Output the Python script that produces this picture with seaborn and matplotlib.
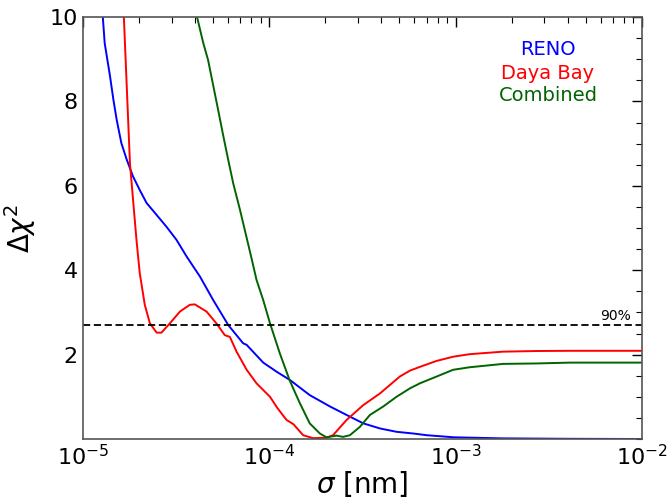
import numpy as np
import pandas as pd
import matplotlib
matplotlib.use("Agg")
import matplotlib.pyplot as plt
from matplotlib.ticker import MultipleLocator, LogLocator
import seaborn as sns

# sigma [nm] and delta chi^2
reno_sigma = [1.28e-5, 1.31e-5, 1.40e-5, 1.46e-5, 1.52e-5, 1.61e-5, 1.72e-5,
              1.86e-5, 2.02e-5, 2.20e-5, 2.34e-5, 2.81e-5, 3.18e-5, 3.61e-5,
              4.25e-5, 5.01e-5, 6.03e-5, 7.24e-5, 7.57e-5, 9.29e-5, 1.10e-4,
              1.29e-4, 1.65e-4, 2.12e-4, 2.60e-4, 3.20e-4, 3.93e-4, 4.83e-4,
              5.93e-4, 7.0e-4, 9.8e-4, 1.78e-3, 4.0e-3, 1.0e-2]
reno_chi2 = [10.0, 9.38, 8.59, 8.03, 7.56, 7.01, 6.62,
             6.22, 5.90, 5.59, 5.45, 5.03, 4.72, 4.32,
             3.85, 3.29, 2.70, 2.27, 2.23, 1.81, 1.59,
             1.40, 1.04, 0.77, 0.57, 0.37, 0.25, 0.17,
             0.13, 0.09, 0.04, 0.015, 0.005, 0.0]

dyb_sigma = [1.66e-5, 1.79e-5, 1.94e-5, 2.02e-5, 2.15e-5, 2.29e-5, 2.49e-5,
             2.64e-5, 2.93e-5, 3.32e-5, 3.75e-5, 3.99e-5, 4.61e-5, 5.21e-5,
             5.78e-5, 6.15e-5, 6.68e-5, 7.57e-5, 8.55e-5, 8.91e-5, 1.01e-4,
             1.10e-4, 1.19e-4, 1.24e-4, 1.35e-4, 1.52e-4, 1.72e-4, 2.03e-4,
             2.20e-4, 2.60e-4, 3.19e-4, 3.93e-4, 5.02e-4, 5.69e-4, 6.44e-4,
             7.91e-4, 9.70e-4, 1.19e-3, 1.80e-3, 2.72e-3, 4.11e-3, 1.0e-2]
dyb_chi2 = [10.0, 6.53, 4.72, 3.93, 3.18, 2.74, 2.52,
            2.52, 2.74, 3.02, 3.18, 3.19, 3.02, 2.74,
            2.46, 2.42, 2.07, 1.64, 1.32, 1.24, 1.00,
            0.75, 0.55, 0.45, 0.35, 0.09, 0.02, 0.03,
            0.09, 0.45, 0.80, 1.08, 1.48, 1.62, 1.71,
            1.85, 1.95, 2.01, 2.07, 2.085, 2.09, 2.09]

comb_sigma = [4.10e-5, 4.43e-5, 4.70e-5, 5.00e-5, 5.32e-5, 5.66e-5, 6.03e-5,
              6.41e-5, 6.97e-5, 7.40e-5, 8.04e-5, 8.55e-5, 9.29e-5, 1.01e-4,
              1.14e-4, 1.29e-4, 1.46e-4, 1.65e-4, 1.87e-4, 2.03e-4, 2.30e-4,
              2.49e-4, 2.71e-4, 3.07e-4, 3.47e-4, 4.09e-4, 4.82e-4, 5.69e-4,
              6.44e-4, 7.91e-4, 9.70e-4, 1.19e-3, 1.80e-3, 2.72e-3, 4.11e-3,
              1.0e-2]
comb_chi2 = [10.0, 9.38, 8.98, 8.39, 7.80, 7.20, 6.61,
             6.06, 5.43, 4.95, 4.28, 3.77, 3.29, 2.74,
             2.03, 1.38, 0.85, 0.37, 0.13, 0.04, 0.08,
             0.05, 0.09, 0.29, 0.57, 0.77, 1.00, 1.20,
             1.32, 1.48, 1.64, 1.70, 1.78, 1.79, 1.81,
             1.81]

cl90 = 2.71

frames = []
for name, s, c in [("RENO", reno_sigma, reno_chi2),
                   ("Daya Bay", dyb_sigma, dyb_chi2),
                   ("Combined", comb_sigma, comb_chi2)]:
    frames.append(pd.DataFrame({"sigma": s, "chi2": c, "exp": name}))
df = pd.concat(frames, ignore_index=True)

colors = {"RENO": "blue", "Daya Bay": "red", "Combined": "darkgreen"}

sns.set_style("white")
plt.rcParams["font.family"] = ["DejaVu Sans"]
plt.rcParams["text.color"] = "black"
plt.rcParams["axes.labelcolor"] = "black"
plt.rcParams["xtick.color"] = "black"
plt.rcParams["ytick.color"] = "black"

fig = plt.figure(figsize=(6.68, 5.0), dpi=100)
ax = fig.add_axes([0.124, 0.122, 0.837, 0.844])

sns.lineplot(data=df, x="sigma", y="chi2", hue="exp", palette=colors,
             sort=False, estimator=None, linewidth=1.4, legend=False, ax=ax)
ax.axhline(cl90, color="black", linestyle="--", linewidth=1.3, dashes=(4, 2))
ax.text(8.7e-3, cl90 + 0.05, "90%", ha="right", va="bottom", fontsize=10)

ax.set_xscale("log")
ax.set_xlim(1e-5, 1e-2)
ax.set_ylim(0, 10)
ax.set_yticks([2, 4, 6, 8, 10])
ax.yaxis.set_minor_locator(MultipleLocator(0.5))
ax.xaxis.set_minor_locator(LogLocator(base=10, subs=np.arange(2, 10), numticks=20))

ax.tick_params(which="both", direction="in", top=True, right=True,
               labelsize=16, color="black", labelcolor="black")
ax.tick_params(which="major", length=7, width=1)
ax.tick_params(which="minor", length=4, width=0.8)
for sp in ax.spines.values():
    sp.set_color("#555555")
    sp.set_linewidth(1.2)

ax.set_xlabel(r"$\sigma$ [nm]", fontsize=20, labelpad=0)
ax.set_ylabel(r"$\Delta\chi^2$", fontsize=20, labelpad=8)

for label, yy in [("RENO", 0.922), ("Daya Bay", 0.867), ("Combined", 0.815)]:
    ax.text(0.832, yy, label, color=colors[label], fontsize=14,
            ha="center", va="center", transform=ax.transAxes)

fig.savefig("out.png", dpi=100)
